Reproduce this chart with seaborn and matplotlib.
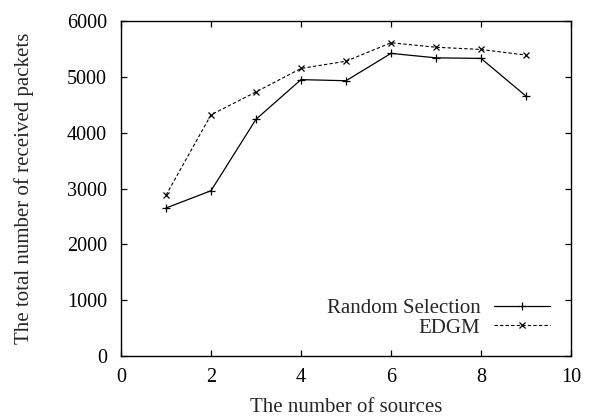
import matplotlib
matplotlib.use("Agg")
import matplotlib.pyplot as plt
import seaborn as sns
import pandas as pd

sources = [1, 2, 3, 4, 5, 6, 7, 8, 9]
random_selection = [2650, 2960, 4240, 4950, 4930, 5420, 5340, 5330, 4655]
edgm = [2880, 4320, 4730, 5150, 5280, 5610, 5530, 5490, 5390]
x_ticks = [0, 2, 4, 6, 8, 10]
y_ticks = [0, 1000, 2000, 3000, 4000, 5000, 6000]

sns.set_style("ticks")
plt.rcParams['font.family'] = ['Liberation Serif', 'DejaVu Serif']

fig = plt.figure(figsize=(5.92, 4.2), dpi=100)
ax = fig.add_axes([121/592, 64/420, 450/592, 335/420])

df_r = pd.DataFrame({"x": sources, "y": random_selection})
df_e = pd.DataFrame({"x": sources, "y": edgm})

sns.lineplot(data=df_r, x="x", y="y", ax=ax, color="black", linewidth=0.9,
             marker="+", markersize=6, markeredgewidth=0.9, markeredgecolor="black",
             label="Random Selection")
sns.lineplot(data=df_e, x="x", y="y", ax=ax, color="black", linewidth=0.8,
             linestyle=(0, (3, 2)), marker="x", markersize=5, markeredgewidth=0.9,
             markeredgecolor="black", label="EDGM")

ax.set_xlim(0, 10)
ax.set_ylim(0, 6000)
ax.set_xticks(x_ticks)
ax.set_yticks(y_ticks)
ax.set_xticklabels([str(v) for v in x_ticks])
ax.set_yticklabels([str(v) for v in y_ticks])
ax.tick_params(direction="in", top=True, right=True, length=4, width=0.9,
               labelsize=14.5, colors="black")
ax.tick_params(axis="x", pad=8.5)
ax.tick_params(axis="y", pad=10)
for s in ax.spines.values():
    s.set_visible(True)
    s.set_linewidth(1.0)
    s.set_color("black")

ax.set_xlabel("The number of sources", fontsize=15, labelpad=8)
ax.set_ylabel("The total number of received packets", fontsize=15, labelpad=24)

ax.legend(loc="lower right", frameon=False, markerfirst=False, fontsize=15,
          handlelength=2.65, handletextpad=0.67, labelspacing=0.0,
          borderaxespad=0.0, borderpad=0.4,
          bbox_to_anchor=(0.971, 0.03))

fig.savefig("out.png", dpi=100)
